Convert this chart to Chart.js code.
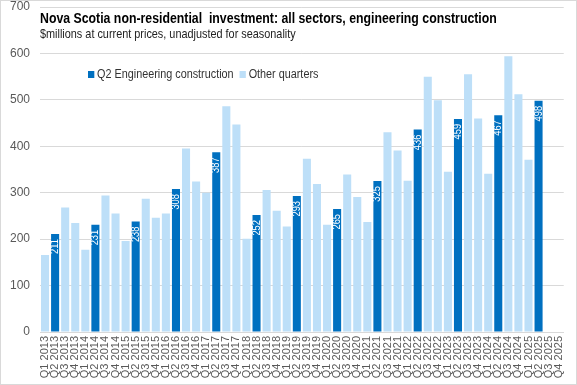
<!DOCTYPE html>
<html>
<head>
<meta charset="utf-8">
<script src="https://cdn.jsdelivr.net/npm/chart.js@4"></script>
<style>
  html, body { margin: 0; padding: 0; background: #fff; }
  #wrap { position: relative; width: 575px; height: 383px; border: 1px solid #d9d9d9; }
  .ov { position: absolute; white-space: pre; transform-origin: 0 0; font-family: "Liberation Sans", sans-serif; }
  #title { left: 39px; top: 8px; font-weight: bold; font-size: 15px; color: #000; }
  #sub { left: 39px; top: 25px; font-size: 13px; color: #222; }
  #legend { left: 87px; top: 66px; font-size: 12px; color: #333; }
  #legend span.box { display: inline-block; width: 7px; height: 7px; margin-right: 3px; }
</style>
</head>
<body>
<div id="wrap">
  <canvas id="chart" width="575" height="383"></canvas>
  <div id="title" class="ov">Nova Scotia non-residential  investment: all sectors, engineering construction</div>
  <div id="sub" class="ov">$millions at current prices, unadjusted for seasonality</div>
  <div id="legend" class="ov"><span class="box" style="background:#0070C0"></span>Q2 Engineering construction  <span class="box" style="background:#BDDFF8"></span>Other quarters</div>
</div>
<script>
const years = [2013, 2014, 2015, 2016, 2017, 2018, 2019, 2020, 2021, 2022, 2023, 2024, 2025];
const quarters = ['Q1', 'Q2', 'Q3', 'Q4'];

// Q2 values by year
const q2Values = [211, 231, 238, 308, 387, 252, 293, 265, 325, 436, 459, 467, 498];
// Q1, Q3, Q4 values by year (null = not yet available)
const q1Values = [166, 177, 196, 255, 300, 201, 227, 231, 237, 326, 345, 341, 371];
const q3Values = [268, 294, 287, 395, 486, 306, 373, 339, 430, 550, 555, 594, null];
const q4Values = [235, 255, 246, 324, 447, 261, 319, 291, 391, 499, 460, 512, null];

// squeeze the overlay text to the narrow widths of the original
function fitWidth(id, w) {
    const el = document.getElementById(id);
    el.style.transform = 'scaleX(' + (w / el.offsetWidth) + ')';
}
fitWidth('title', 457);
fitWidth('sub', 256);
fitWidth('legend', 230);

const labels = [];
const q2Data = [];
const otherData = [];
years.forEach((y, i) => {
    quarters.forEach((q, j) => {
        labels.push(q + ' ' + y);
        if (j === 1) {
            q2Data.push(q2Values[i]);
            otherData.push(null);
        } else {
            q2Data.push(null);
            otherData.push([q1Values, null, q3Values, q4Values][j][i]);
        }
    });
});

const barLabels = {
    id: 'barLabels',
    afterDatasetsDraw(chart) {
        const ctx = chart.ctx;
        const meta = chart.getDatasetMeta(0);
        ctx.save();
        ctx.fillStyle = '#fff';
        ctx.font = '11px "Liberation Sans", sans-serif';
        ctx.textAlign = 'right';
        ctx.textBaseline = 'middle';
        meta.data.forEach((bar, i) => {
            const v = q2Data[i];
            if (v == null) return;
            ctx.save();
            ctx.translate(bar.x, bar.y + 5);
            ctx.rotate(-Math.PI / 2);
            ctx.scale(0.85, 1);
            ctx.fillText(String(v), 0, 0);
            ctx.restore();
        });
        ctx.restore();
    }
};

new Chart(document.getElementById('chart'), {
    type: 'bar',
    data: {
        labels: labels,
        datasets: [{
            label: 'Q2 Engineering construction',
            data: q2Data,
            backgroundColor: '#0070C0',
            barPercentage: 0.8,
            categoryPercentage: 1
        }, {
            label: 'Other quarters',
            data: otherData,
            backgroundColor: '#BDDFF8',
            barPercentage: 0.8,
            categoryPercentage: 1
        }]
    },
    options: {
        responsive: false,
        animation: false,
        layout: { padding: { left: 2, right: 10, top: 6, bottom: 1 } },
        plugins: {
            legend: { display: false },
            tooltip: { enabled: false }
        },
        scales: {
            x: {
                stacked: true,
                grid: { display: false, drawTicks: false },
                border: { color: '#d9d9d9' },
                ticks: {
                    autoSkip: false,
                    minRotation: 90,
                    maxRotation: 90,
                    padding: 4,
                    color: '#595959',
                    font: { size: 11, family: '"Liberation Sans", sans-serif' }
                },
                afterFit(scale) { scale.height = 51; }
            },
            y: {
                stacked: false,
                min: 0,
                max: 700,
                grid: { color: '#d9d9d9', drawTicks: false },
                border: { display: false },
                ticks: {
                    stepSize: 100,
                    padding: 10,
                    color: '#595959',
                    font: { size: 12, family: '"Liberation Sans", sans-serif' }
                },
                afterFit(scale) {
                    scale.width = 37;
                    scale.paddingTop = 0;
                }
            }
        }
    },
    plugins: [barLabels]
});
</script>
</body>
</html>
